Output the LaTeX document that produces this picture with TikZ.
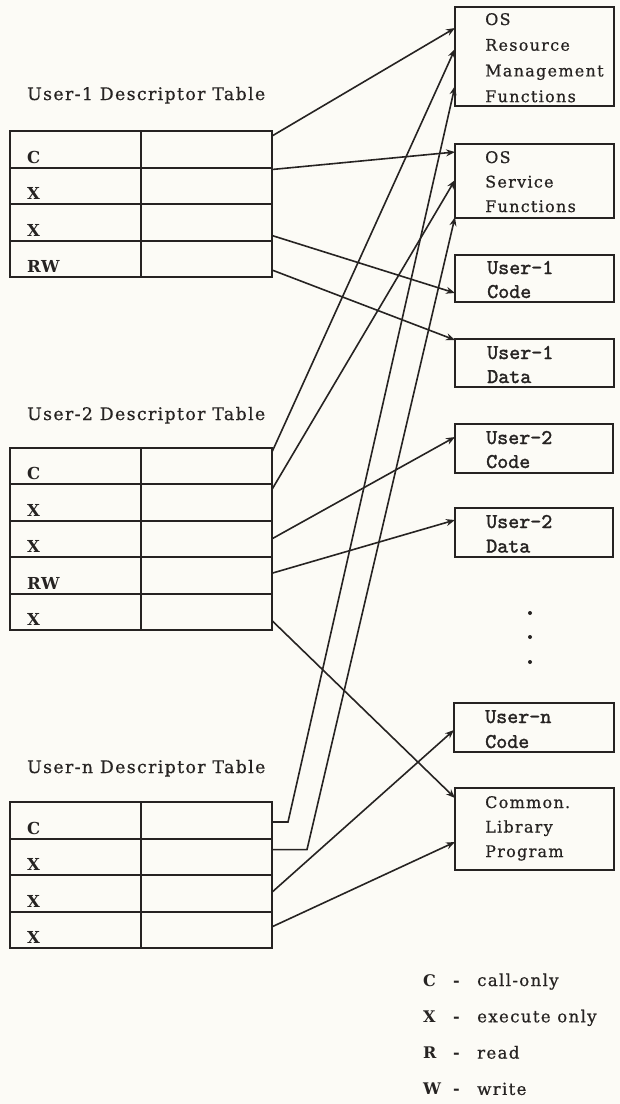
\documentclass[tikz,border=0pt]{standalone}
\usepackage{fontspec}
\setmainfont{DejaVu Serif}
\newfontfamily\spfont[LetterSpace=8,FakeBold=0.7]{DejaVu Serif}
\newfontfamily\bdfont[LetterSpace=3]{DejaVu Serif Bold}
\newfontfamily\ttb[FakeBold=1.6]{lmmono10-regular.otf}
\usetikzlibrary{arrows.meta,calc}
\definecolor{ink}{RGB}{38,35,34}
\definecolor{paper}{RGB}{252,251,246}
\newcommand\lblfont{\spfont\fontsize{17.3}{20}\selectfont}
\newcommand\boxfont[1]{\spfont\fontsize{16}{#1}\selectfont}
\newcommand\ttbox[1]{\ttb\fontsize{21}{#1}\selectfont}
\newcommand\rowfont{\bdfont\fontsize{16.5}{20}\selectfont}
\newcommand\legfont{\spfont\fontsize{16.6}{36.3}\selectfont}
\newcommand\legkey[1]{{\bdfont\fontsize{16}{36.3}\selectfont #1}}
\begin{document}
\begin{tikzpicture}[x=1pt,y=-1pt,
  tabrow/.style={draw=ink, line width=2pt, minimum width=262pt, inner sep=0pt, outer sep=0pt, anchor=north west},
  tabline/.style={draw=ink, line width=2pt},
  tbox/.style={draw=ink, line width=1.7pt, inner sep=0pt, outer sep=0pt, anchor=north west},
  rowlbl/.style={anchor=base west, inner sep=0pt, text=ink, font=\rowfont},
  tlabel/.style={anchor=base west, inner sep=0pt, text=ink, font=\lblfont},
  btext/.style={anchor=base west, inner sep=0pt, text=ink},
  conn/.style={draw=ink, line width=1.6pt, -{Stealth[length=9pt,width=7pt]}}
]
\useasboundingbox[fill=paper] (0,0) rectangle (620,1104);

% ---------- table labels
\node[tlabel] (l1) at (27,100) {User-1 Descriptor Table};
\node[tlabel] (l2) at (27,420) {User-2 Descriptor Table};
\node[tlabel] (ln) at (27,773) {User-n Descriptor Table};

% ---------- table 1
\node[tabrow, minimum height=36.5pt] (t1r1) at (10,131) {};
\node[tabrow, minimum height=36.5pt] (t1r2) at (t1r1.south west) {};
\node[tabrow, minimum height=36.5pt] (t1r3) at (t1r2.south west) {};
\node[tabrow, minimum height=36.5pt] (t1r4) at (t1r3.south west) {};
\draw[tabline] (t1r1.north) -- (t1r4.south);
\node[rowlbl] (t1c1) at ($(t1r1.south west)+(17,-4.5)$) {C};
\node[rowlbl] (t1c2) at ($(t1r2.south west)+(17,-4.5)$) {X};
\node[rowlbl] (t1c3) at ($(t1r3.south west)+(17,-4.5)$) {X};
\node[rowlbl] (t1c4) at ($(t1r4.south west)+(17,-4.5)$) {RW};

% ---------- table 2
\node[tabrow, minimum height=36.4pt] (t2r1) at (10,448) {};
\node[tabrow, minimum height=36.4pt] (t2r2) at (t2r1.south west) {};
\node[tabrow, minimum height=36.4pt] (t2r3) at (t2r2.south west) {};
\node[tabrow, minimum height=36.4pt] (t2r4) at (t2r3.south west) {};
\node[tabrow, minimum height=36.4pt] (t2r5) at (t2r4.south west) {};
\draw[tabline] (t2r1.north) -- (t2r5.south);
\node[rowlbl] (t2c1) at ($(t2r1.south west)+(17,-4.5)$) {C};
\node[rowlbl] (t2c2) at ($(t2r2.south west)+(17,-4.5)$) {X};
\node[rowlbl] (t2c3) at ($(t2r3.south west)+(17,-4.5)$) {X};
\node[rowlbl] (t2c4) at ($(t2r4.south west)+(17,-4.5)$) {RW};
\node[rowlbl] (t2c5) at ($(t2r5.south west)+(17,-4.5)$) {X};

% ---------- table n
\node[tabrow, minimum height=36.6pt] (tnr1) at (10,802) {};
\node[tabrow, minimum height=36.6pt] (tnr2) at (tnr1.south west) {};
\node[tabrow, minimum height=36.6pt] (tnr3) at (tnr2.south west) {};
\node[tabrow, minimum height=36.6pt] (tnr4) at (tnr3.south west) {};
\draw[tabline] (tnr1.north) -- (tnr4.south);
\node[rowlbl] (tnc1) at ($(tnr1.south west)+(17,-4.5)$) {C};
\node[rowlbl] (tnc2) at ($(tnr2.south west)+(17,-4.5)$) {X};
\node[rowlbl] (tnc3) at ($(tnr3.south west)+(17,-4.5)$) {X};
\node[rowlbl] (tnc4) at ($(tnr4.south west)+(17,-4.5)$) {X};

% ---------- right boxes
\node[tbox, minimum width=159pt, minimum height=99pt] (osr) at (455,7) {};
\node[tbox, minimum width=159pt, minimum height=74pt] (oss) at (455,144) {};
\node[tbox, minimum width=159pt, minimum height=47pt] (u1c) at (455,255) {};
\node[tbox, minimum width=159pt, minimum height=48pt] (u1d) at (455,339) {};
\node[tbox, minimum width=158pt, minimum height=49pt] (u2c) at (455,424) {};
\node[tbox, minimum width=158pt, minimum height=49pt] (u2d) at (455,508) {};
\node[tbox, minimum width=160pt, minimum height=49pt] (unc) at (454,703) {};
\node[tbox, minimum width=159pt, minimum height=82pt] (clp) at (455,788) {};

\node[btext, font=\boxfont{25.7}] (osrt) at (485,25)
  {\begin{tabular}[t]{@{}l@{}}OS\\Resource\\Management\\Functions\end{tabular}};
\node[btext, font=\boxfont{24.5}] (osst) at (485,163)
  {\begin{tabular}[t]{@{}l@{}}OS\\Service\\Functions\end{tabular}};
\node[btext, font=\ttbox{24}] (u1ct) at (487,274)
  {\begin{tabular}[t]{@{}l@{}}User-1\\Code\end{tabular}};
\node[btext, font=\ttbox{24}] (u1dt) at (487,359)
  {\begin{tabular}[t]{@{}l@{}}User-1\\Data\end{tabular}};
\node[btext, font=\ttbox{24}] (u2ct) at (486,444)
  {\begin{tabular}[t]{@{}l@{}}User-2\\Code\end{tabular}};
\node[btext, font=\ttbox{24.5}] (u2dt) at (486,528)
  {\begin{tabular}[t]{@{}l@{}}User-2\\Data\end{tabular}};
\node[btext, font=\ttbox{25}] (unct) at (485,723)
  {\begin{tabular}[t]{@{}l@{}}User-n\\Code\end{tabular}};
\node[btext, font=\boxfont{24.5}] (clpt) at (485,808)
  {\begin{tabular}[t]{@{}l@{}}Common.\\Library\\Program\end{tabular}};

% ---------- dots
\fill[ink] (530,613) circle (2) (530,637) circle (2) (530,662) circle (2);

% ---------- connectors, table 1
\draw[conn] ([yshift=-5pt]t1r1.north east) -- ([yshift=-21pt]osr.north west);
\draw[conn] ([yshift=-2pt]t1r2.north east) -- ([yshift=-8pt]oss.north west);
\draw[conn] ([yshift=5pt]t1r3.south east) -- ([yshift=-38pt]u1c.north west);
\draw[conn] ([yshift=7pt]t1r4.south east) -- ([yshift=-1pt]u1d.north west);
% ---------- connectors, table 2
\draw[conn] ([yshift=-4pt]t2r1.north east) -- ([yshift=-42pt]osr.north west);
\draw[conn] ([yshift=-5pt]t2r2.north east) -- ([yshift=-36pt]oss.north west);
\draw[conn] ([yshift=-18pt]t2r3.north east) -- ([yshift=-13pt]u2c.north west);
\draw[conn] ([yshift=-16pt]t2r4.north east) -- ([yshift=-12pt]u2d.north west);
\draw[conn] ([yshift=-27pt]t2r5.north east) -- ([yshift=-10pt]clp.north west);
% ---------- connectors, table n
\draw[conn] ([yshift=-20pt]tnr1.north east) -- ++(16,0) -- ([yshift=-79pt]osr.north west);
\draw[conn] ([yshift=-11pt]tnr2.north east) -- ++(35,0) -- ([yshift=-73pt]oss.north west);
\draw[conn] ([yshift=-17pt]tnr3.north east) -- ([yshift=-27pt]unc.north west);
\draw[conn] ([yshift=-15pt]tnr4.north east) -- ([yshift=-54pt]clp.north west);

% ---------- legend
\node[anchor=base west, inner sep=0pt, text=ink, font=\legfont] (legend) at (423,986)
  {\begin{tabular}[t]{@{}p{30pt}@{}p{24pt}@{}l@{}}
   \legkey{C} & \legkey{-} & call-only\\ \legkey{X} & \legkey{-} & execute only\\
   \legkey{R} & \legkey{-} & read\\ \legkey{W} & \legkey{-} & write
   \end{tabular}};
\end{tikzpicture}
\end{document}
